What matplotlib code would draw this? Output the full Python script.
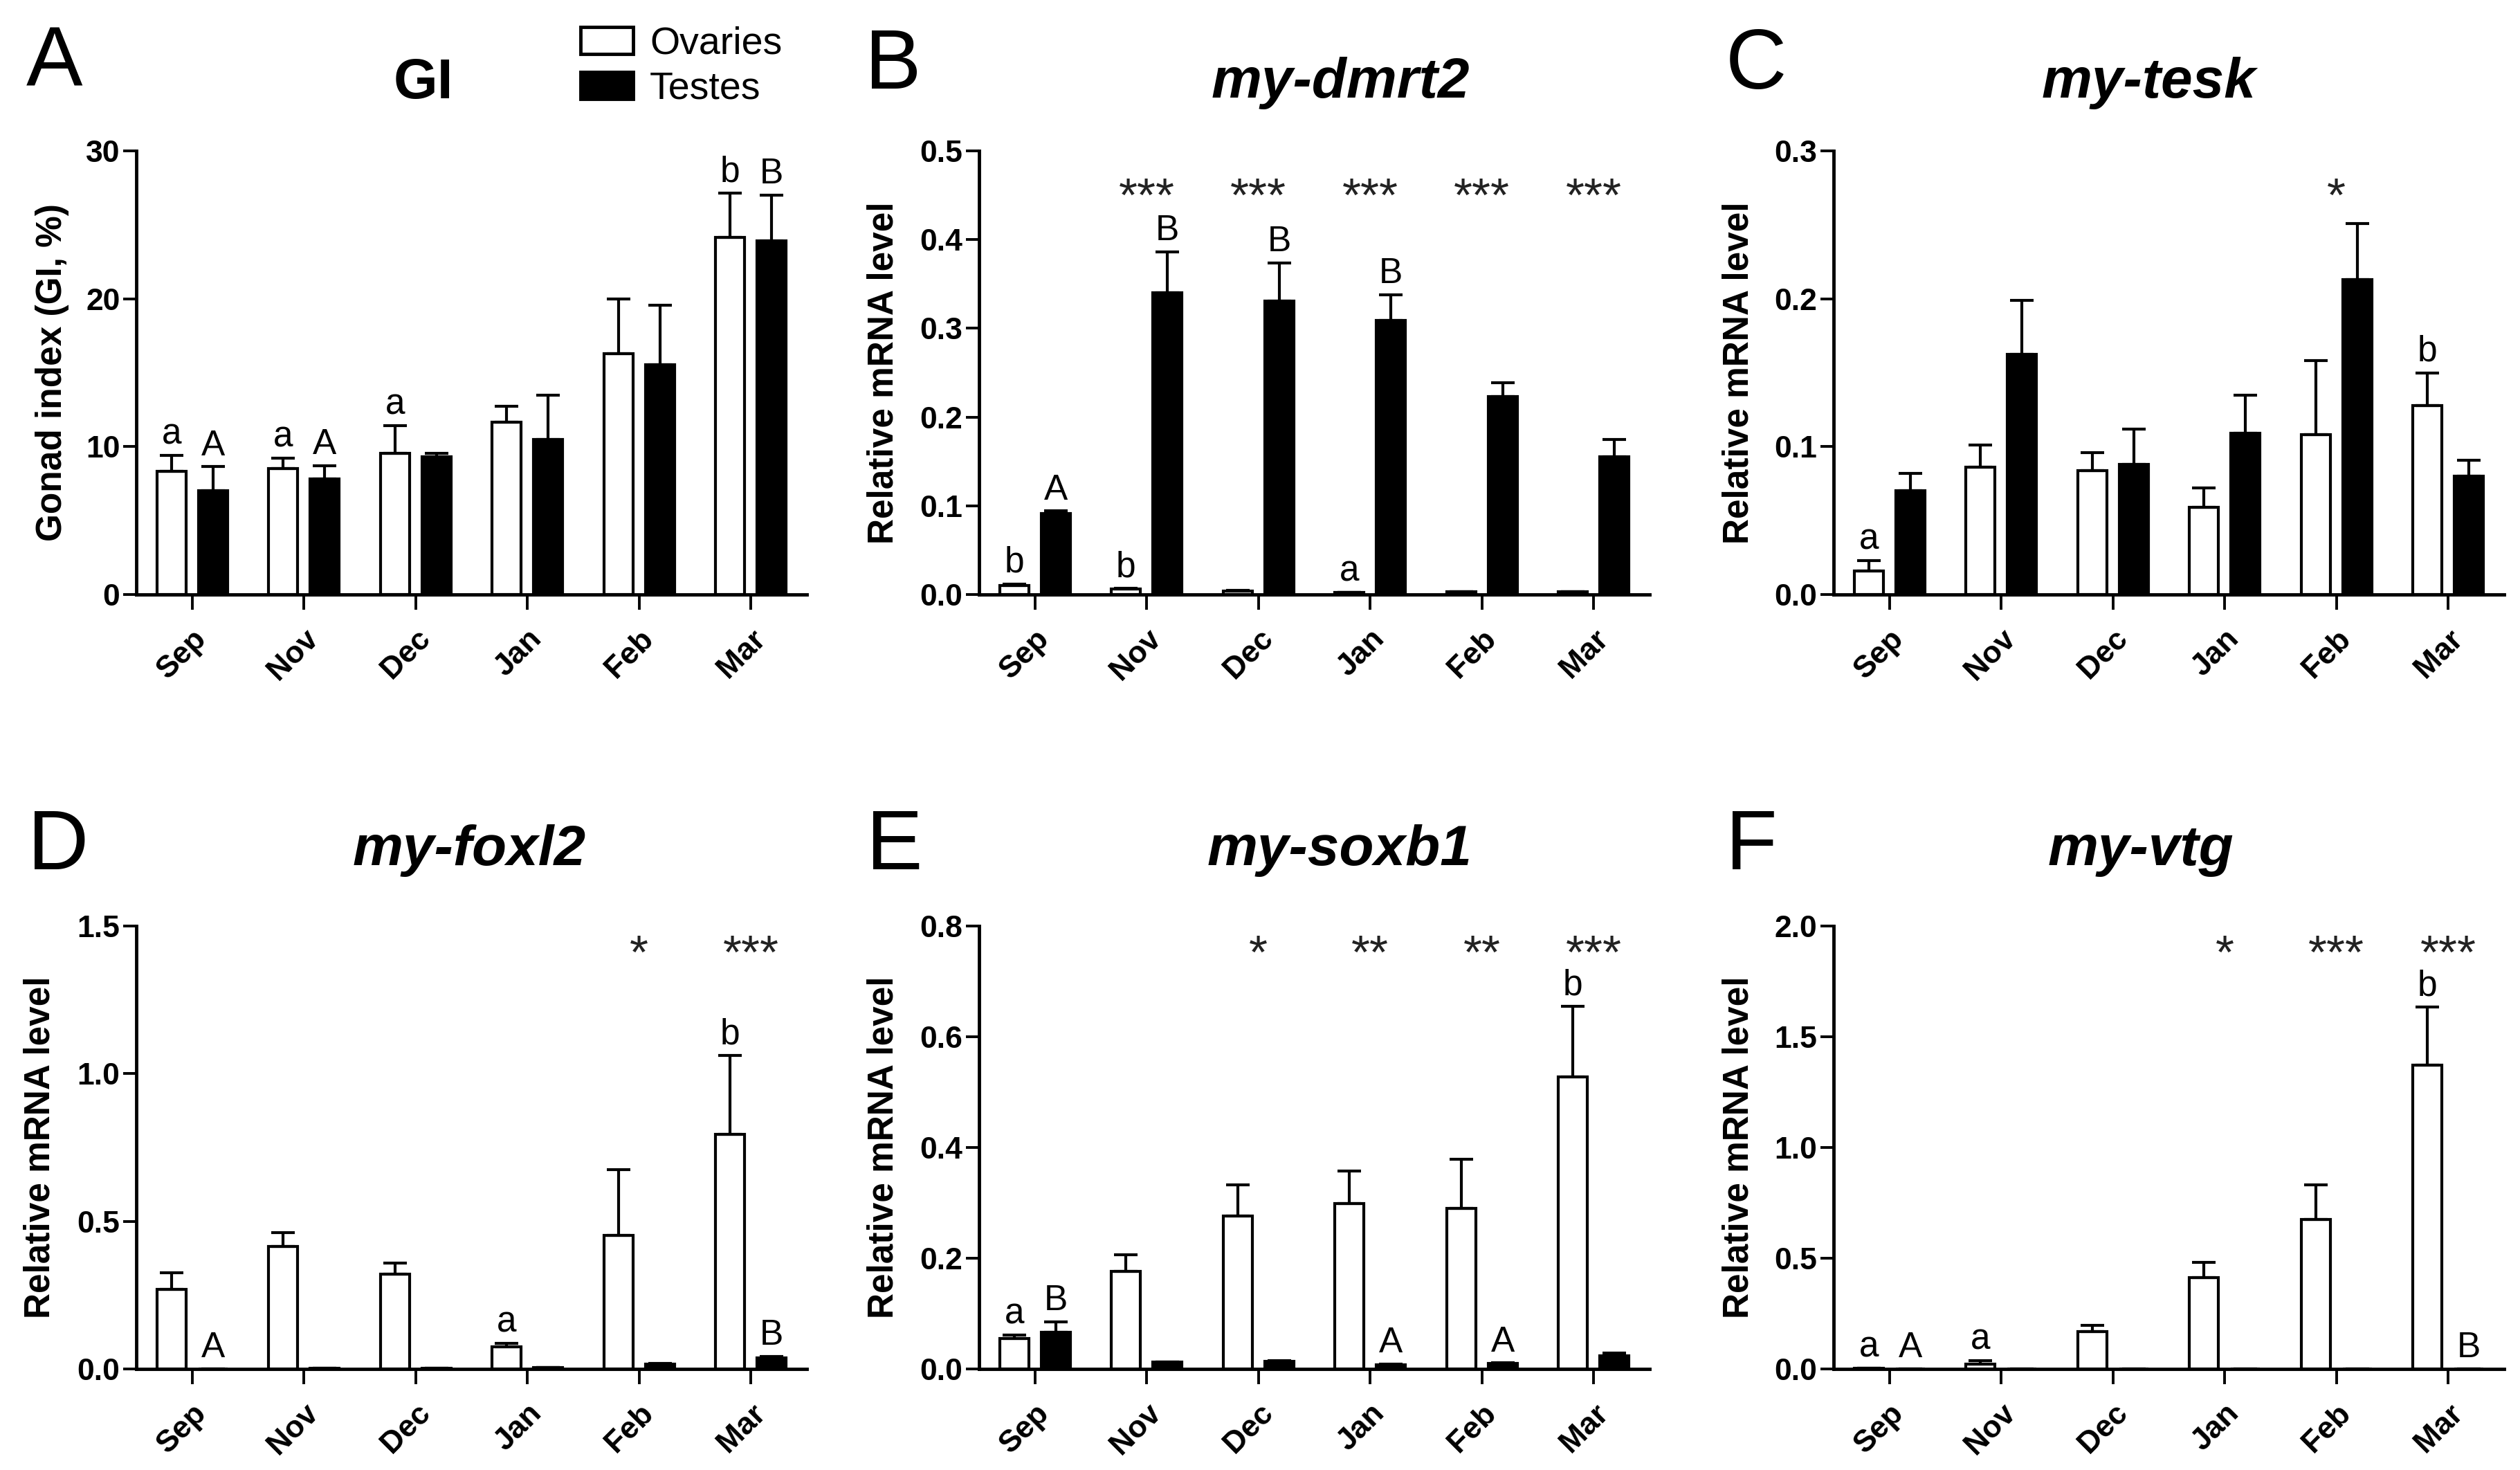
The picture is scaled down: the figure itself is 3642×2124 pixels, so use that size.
import numpy as np
import matplotlib
matplotlib.use('Agg')
import matplotlib.pyplot as plt
from matplotlib.patches import Patch
from matplotlib.transforms import blended_transform_factory, ScaledTranslation

plt.rcParams['font.family'] = ['Liberation Sans', 'DejaVu Sans']

# months on the x axis
months = ['Sep', 'Nov', 'Dec', 'Jan', 'Feb', 'Mar']

# A: gonad index (%)
gi_ov = [8.35, 8.5, 9.55, 11.65, 16.3, 24.15]
gi_ov_err = [1.05, 0.7, 1.85, 1.1, 3.7, 3.0]
gi_te = [7.0, 7.8, 9.3, 10.5, 15.55, 23.9]
gi_te_err = [1.65, 0.9, 0.25, 3.0, 4.0, 3.1]
gi_ov_lab = ['a', 'a', 'a', '', '', 'b']
gi_te_lab = ['A', 'A', '', '', '', 'B']
gi_stars = ['', '', '', '', '', '']

# B: my-dmrt2
dmrt2_ov = [0.010, 0.006, 0.004, 0.002, 0.003, 0.003]
dmrt2_ov_err = [0.002, 0.001, 0.001, 0.0005, 0.0005, 0.0005]
dmrt2_te = [0.091, 0.340, 0.331, 0.309, 0.223, 0.155]
dmrt2_te_err = [0.003, 0.046, 0.043, 0.029, 0.016, 0.020]
dmrt2_ov_lab = ['b', 'b', '', 'a', '', '']
dmrt2_te_lab = ['A', 'B', 'B', 'B', '', '']
dmrt2_stars = ['', '***', '***', '***', '***', '***']

# C: my-tesk
tesk_ov = [0.016, 0.086, 0.084, 0.059, 0.108, 0.128]
tesk_ov_err = [0.007, 0.015, 0.012, 0.013, 0.050, 0.022]
tesk_te = [0.070, 0.1625, 0.088, 0.109, 0.213, 0.080]
tesk_te_err = [0.012, 0.0365, 0.024, 0.026, 0.038, 0.011]
tesk_ov_lab = ['a', '', '', '', '', 'b']
tesk_te_lab = ['', '', '', '', '', '']
tesk_stars = ['', '', '', '', '*', '']

# D: my-foxl2
foxl2_ov = [0.27, 0.414, 0.321, 0.076, 0.452, 0.795]
foxl2_ov_err = [0.056, 0.048, 0.037, 0.010, 0.224, 0.266]
foxl2_te = [0.001, 0.002, 0.002, 0.004, 0.016, 0.038]
foxl2_te_err = [0.0, 0.0, 0.0, 0.001, 0.003, 0.004]
foxl2_ov_lab = ['', '', '', 'a', '', 'b']
foxl2_te_lab = ['A', '', '', '', '', 'B']
foxl2_stars = ['', '', '', '', '*', '***']

# E: my-soxb1
soxb1_ov = [0.055, 0.176, 0.276, 0.299, 0.290, 0.528]
soxb1_ov_err = [0.006, 0.030, 0.057, 0.058, 0.089, 0.127]
soxb1_te = [0.066, 0.012, 0.014, 0.008, 0.010, 0.024]
soxb1_te_err = [0.019, 0.001, 0.001, 0.001, 0.001, 0.005]
soxb1_ov_lab = ['a', '', '', '', '', 'b']
soxb1_te_lab = ['B', '', '', 'A', 'A', '']
soxb1_stars = ['', '', '*', '**', '**', '***']

# F: my-vtg
vtg_ov = [0.003, 0.021, 0.170, 0.414, 0.674, 1.372]
vtg_ov_err = [0.0, 0.015, 0.027, 0.068, 0.157, 0.261]
vtg_te = [0.0, 0.0, 0.0, 0.0, 0.0, 0.0]
vtg_te_err = [0.0, 0.0, 0.0, 0.0, 0.0, 0.0]
vtg_ov_lab = ['a', 'a', '', '', '', 'b']
vtg_te_lab = ['A', '', '', '', '', 'B']
vtg_stars = ['', '', '', '*', '***', '***']

W, H = 3642, 2124
fig = plt.figure(figsize=(W / 100, H / 100), dpi=100)

LW = 3.0
x = np.arange(len(months))
OFF, BW = 0.185, 0.26


def add_ax(left, top, width=969, height=641):
    return fig.add_axes([left / W, 1 - (top + height) / H, width / W, height / H])


def draw_panel(ax, ov, ov_err, te, te_err, ymax, ystep, fmt,
               ov_lab, te_lab, stars, star_frac, ylabel, ylab_x):
    ax.bar(x - OFF, ov, BW, color='white', edgecolor='black', lw=LW, zorder=2)
    ax.bar(x + OFF, te, BW, color='black', edgecolor='black', lw=LW, zorder=2)
    ax.errorbar(x - OFF, ov, yerr=[np.zeros(len(ov)), ov_err], fmt='none',
                ecolor='black', elinewidth=LW, capsize=12, capthick=LW, zorder=3)
    ax.errorbar(x + OFF, te, yerr=[np.zeros(len(te)), te_err], fmt='none',
                ecolor='black', elinewidth=LW, capsize=12, capthick=LW, zorder=3)

    # group letters
    for i in range(len(months)):
        for lab, xx, v, e in ((ov_lab[i], x[i] - OFF, ov[i], ov_err[i]),
                              (te_lab[i], x[i] + OFF, te[i], te_err[i])):
            if lab:
                ax.annotate(lab, (xx, v + e), xytext=(0, 12),
                            textcoords='offset points', ha='center',
                            va='baseline', fontsize=37, annotation_clip=False)

    # significance stars
    tr = blended_transform_factory(ax.transData, ax.transAxes)
    for i, s in enumerate(stars):
        if s:
            ax.text(x[i], star_frac, s, transform=tr, ha='center',
                    va='baseline', fontsize=50, color='#222222')

    ax.set_xlim(-0.5, 5.5)
    ax.set_ylim(0, ymax)
    for sp in ('top', 'right'):
        ax.spines[sp].set_visible(False)
    for sp in ('left', 'bottom'):
        ax.spines[sp].set_linewidth(3.5)

    ax.set_xticks(x)
    ax.set_xticklabels(months, rotation=45, ha='right', rotation_mode='anchor',
                       fontsize=32, fontweight='bold')
    shift = ScaledTranslation(-8 / 100, 0, fig.dpi_scale_trans)
    for t in ax.get_xticklabels():
        t.set_transform(t.get_transform() + shift)
    yt = np.arange(0, ymax + ystep / 2, ystep)
    ax.set_yticks(yt)
    ax.set_yticklabels([fmt.format(v) for v in yt], fontsize=32,
                       fontweight='bold')
    ax.tick_params(axis='x', length=16, width=2.8, pad=15)
    ax.tick_params(axis='y', length=14, width=2.8, pad=3)
    ax.set_ylabel(ylabel, fontsize=37, fontweight='bold')
    ax.yaxis.set_label_coords(ylab_x, 0.5)


cols = [197, 1415, 2650]
top_row, bot_row = 218, 1338

axA = add_ax(cols[0], top_row)
draw_panel(axA, gi_ov, gi_ov_err, gi_te, gi_te_err, 30, 10, '{:.0f}',
           gi_ov_lab, gi_te_lab, gi_stars, 0.86, 'Gonad index (GI, %)', -0.10)
axB = add_ax(cols[1], top_row)
draw_panel(axB, dmrt2_ov, dmrt2_ov_err, dmrt2_te, dmrt2_te_err, 0.5, 0.1, '{:.1f}',
           dmrt2_ov_lab, dmrt2_te_lab, dmrt2_stars, 0.865, 'Relative mRNA level', -0.117)
axC = add_ax(cols[2], top_row)
draw_panel(axC, tesk_ov, tesk_ov_err, tesk_te, tesk_te_err, 0.3, 0.1, '{:.1f}',
           tesk_ov_lab, tesk_te_lab, tesk_stars, 0.865, 'Relative mRNA level', -0.116)
axD = add_ax(cols[0], bot_row, height=640)
draw_panel(axD, foxl2_ov, foxl2_ov_err, foxl2_te, foxl2_te_err, 1.5, 0.5, '{:.1f}',
           foxl2_ov_lab, foxl2_te_lab, foxl2_stars, 0.905, 'Relative mRNA level', -0.118)
axE = add_ax(cols[1], bot_row, height=640)
draw_panel(axE, soxb1_ov, soxb1_ov_err, soxb1_te, soxb1_te_err, 0.8, 0.2, '{:.1f}',
           soxb1_ov_lab, soxb1_te_lab, soxb1_stars, 0.905, 'Relative mRNA level', -0.117)
axF = add_ax(cols[2], bot_row, height=640)
draw_panel(axF, vtg_ov, vtg_ov_err, vtg_te, vtg_te_err, 2.0, 0.5, '{:.1f}',
           vtg_ov_lab, vtg_te_lab, vtg_stars, 0.905, 'Relative mRNA level', -0.116)

# panel titles
titles = [('GI', 612, 142, 'normal'), ('my-dmrt2', 1937, 141, 'italic'),
          ('my-tesk', 3106, 141, 'italic'), ('my-foxl2', 678, 1250, 'italic'),
          ('my-soxb1', 1936, 1250, 'italic'), ('my-vtg', 3094, 1250, 'italic')]
for txt, tx, ty, st in titles:
    fig.text(tx / W, 1 - ty / H, txt, ha='center', va='baseline', fontsize=59,
             fontweight='bold', style=st)

# panel letters
letters = [('A', 38, 125), ('B', 1250, 128), ('C', 2494, 128),
           ('D', 40, 1256), ('E', 1252, 1256), ('F', 2494, 1256)]
for txt, tx, ty in letters:
    fig.text(tx / W, 1 - ty / H, txt, ha='left', va='baseline', fontsize=88)

# legend
handles = [Patch(facecolor='white', edgecolor='black', lw=3.5, label='Ovaries'),
           Patch(facecolor='black', edgecolor='black', lw=3.5, label='Testes')]
axA.legend(handles=handles, loc='upper left', bbox_to_anchor=(839 / W, 1 - 38 / H),
           bbox_transform=fig.transFigure, frameon=False, fontsize=40,
           handlelength=1.37, handleheight=0.72, labelspacing=0.23,
           handletextpad=0.43, borderpad=0, borderaxespad=0)

fig.savefig('out.png', dpi=100)
